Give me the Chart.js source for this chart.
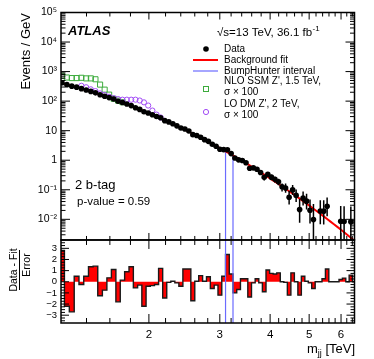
<!DOCTYPE html>
<html>
<head>
<meta charset="utf-8">
<script src="https://cdn.jsdelivr.net/npm/chart.js@4.4.1/dist/chart.umd.min.js"></script>
<style>
  html, body { margin: 0; padding: 0; background: #fff; }
  #wrap { width: 374px; height: 359px; }
</style>
</head>
<body>
<div id="wrap"><canvas id="dijet" width="374" height="359"></canvas></div>
<script>
// m_jj bin edges [GeV]
var binEdges = [1200, 1234, 1269, 1305, 1341, 1378, 1416, 1454, 1493, 1533, 1573, 1614, 1656, 1698, 1741, 1785,
  1830, 1875, 1921, 1968, 2016, 2065, 2114, 2164, 2215, 2267, 2320, 2374, 2429, 2485, 2542, 2600, 2659, 2719,
  2780, 2842, 2905, 2969, 3034, 3100, 3167, 3235, 3305, 3376, 3448, 3521, 3596, 3672, 3749, 3827, 3907, 3988,
  4070, 4154, 4239, 4326, 4414, 4504, 4595, 4688, 4782, 4878, 4975, 5074, 5175, 5277, 5381, 5487, 5595, 5705,
  5817, 5931, 6047, 6165, 6285, 6407, 6531];

// events / GeV
var dataValues = [418, 361, 322, 297, 265, 238, 214, 191, 164, 147, 132, 118, 99.2, 89.7, 79.9, 70.7, 59.8, 52.5,
  43.9, 39.8, 34.7, 30.2, 27.3, 21.9, 19.8, 17.1, 14.6, 12.4, 11.4, 9.77, 7.33, 6.84, 6.00, 4.97, 4.36, 3.46, 2.98,
  2.35, 2.29, 2.27, 1.68, 1.19, 1.03, 0.975, 0.822, 0.533, 0.553, 0.494, 0.385, 0.263, 0.333, 0.268, 0.226, 0.188,
  0.126, 0.114, 0.0556, 0.0989, 0.0645, 0.0213, 0.0521, 0.0412, 0.0202, 0.0099, null, 0.0192, 0.0189, 0.0278,
  null, null, null, 0.00862, 0.00847, null, 0.0082, null];
var dataErrLow = [3.5, 3.2, 3.0, 2.9, 2.7, 2.5, 2.4, 2.2, 2.0, 1.9, 1.8, 1.7, 1.6, 1.4, 1.3, 1.2, 1.2, 1.1, 1.0, 0.92,
  0.85, 0.79, 0.73, 0.67, 0.62, 0.57, 0.52, 0.48, 0.44, 0.40, 0.37, 0.34, 0.31, 0.29, 0.26, 0.24, 0.22, 0.20, 0.18,
  0.17, 0.15, 0.14, 0.13, 0.11, 0.10, 0.084, 0.085, 0.080, 0.070, 0.057, 0.064, 0.057, 0.052, 0.047, 0.038, 0.035,
  0.024, 0.0323, 0.0256, 0.0137, 0.0225, 0.0197, 0.0130, 0.00819, null, 0.0124, 0.0122, 0.0151, null, null, null,
  0.00713, 0.00701, null, 0.00678, null];
var dataErrHigh = [3.5, 3.2, 3.0, 2.9, 2.7, 2.5, 2.4, 2.2, 2.0, 1.9, 1.8, 1.7, 1.6, 1.4, 1.3, 1.2, 1.2, 1.1, 1.0, 0.92,
  0.85, 0.79, 0.73, 0.67, 0.62, 0.57, 0.52, 0.48, 0.44, 0.40, 0.37, 0.34, 0.31, 0.29, 0.26, 0.24, 0.22, 0.20, 0.18,
  0.17, 0.15, 0.14, 0.13, 0.11, 0.10, 0.084, 0.085, 0.080, 0.070, 0.057, 0.064, 0.057, 0.052, 0.047, 0.038, 0.049,
  0.0376, 0.0452, 0.0385, 0.0281, 0.0352, 0.0326, 0.0267, 0.0228, null, 0.0254, 0.0249, 0.0270, null, null, null,
  0.0198, 0.0195, null, 0.0189, null];

var fitValues = [408, 368, 330, 296, 266, 237, 211, 188, 167, 148, 131, 116, 102, 89.5, 78.7, 69.0, 60.4, 52.8,
  46.1, 40.2, 35.0, 30.4, 26.4, 22.9, 19.8, 17.1, 14.7, 12.6, 10.9, 9.31, 7.96, 6.82, 5.83, 4.97, 4.24, 3.60, 3.05,
  2.59, 2.20, 1.86, 1.57, 1.33, 1.12, 0.944, 0.794, 0.665, 0.557, 0.467, 0.390, 0.326, 0.272, 0.226, 0.189, 0.157,
  0.130, 0.108, 0.0891, 0.0736, 0.0607, 0.0500, 0.0411, 0.0339, 0.0279, 0.0229, 0.0188, 0.0154, 0.0126, 0.0103,
  0.00838, 0.00682, 0.00555, 0.00450, 0.00364, 0.00294, 0.00237, 0.00191];

// (data - fit) / error per bin
var significance = [2.8, -2.2, -2.7, 0.5, -0.25, 0.5, 1.35, 1.4, -1.25, -0.75, 0.35, 1.1, -1.8, 0.15, 0.9, 1.35,
  -0.55, -0.3, -2.2, -0.4, -0.35, -0.25, 1.2, -1.45, -0.05, 0.05, -0.1, -0.4, 1.15, 1.15, -1.7, 0.05, 0.55, 0.05,
  0.45, -0.6, -0.3, -1.2, 0.5, 2.45, 0.7, -1.0, -0.7, 0.27, 0.27, -1.37, -0.1, 0.27, -0.1, -0.9, 1.05, 0.75, 0.7,
  0.8, 0.0, -0.05, -1.2, 0.8, 0.0, -1.2, 0.5, 0.05, -0.1, -0.6, 0.0, 0.0, 0.27, 1.15, 0.0, 0.0, 0.0, 0.2, 0.33,
  0.0, 0.6, 0.0];

// signal + background, sigma x 100
var sigSSM = [724, 631, 603, 603, 617, 589, 589, 550, 363, 245, 166, 120, 104, 92];
var sigDM = [null, null, null, null, 331, 295, 251, 219, 182, 162, 141, 126, 117, 112, 112, 112, 112, 105, 91, 71,
  48, 35, 28];

var bumpHunter = [3.100, 3.235];   // TeV
var bumpTop = [2.2, 1.45];         // events / GeV where the lines stop

var xTickValues = [1.4, 1.6, 1.8, 2, 2.2, 2.4, 2.6, 2.8, 3, 3.2, 3.4, 3.6, 3.8, 4, 4.2, 4.4, 4.6, 4.8, 5, 5.2,
  5.4, 5.6, 5.8, 6, 6.2, 6.4];

var FONT = "'Liberation Sans', Arial, Helvetica, sans-serif";
Chart.defaults.font.family = FONT;
Chart.defaults.color = '#000';

var centers = [];
for (var i = 0; i < binEdges.length - 1; i++) centers.push((binEdges[i] + binEdges[i + 1]) / 2000);

function pts(vals) {
  return vals.map(function (v, i) { return {x: centers[i], y: v}; });
}

var resPts = significance.map(function (v, i) { return {x: binEdges[i] / 1000, y: v}; });
resPts.push({x: binEdges[binEdges.length - 1] / 1000, y: significance[significance.length - 1]});

var bumpUpper = [
  {x: bumpHunter[0], y: 1e-4}, {x: bumpHunter[0], y: bumpTop[0]}, {x: bumpHunter[0], y: null},
  {x: bumpHunter[1], y: 1e-4}, {x: bumpHunter[1], y: bumpTop[1]}
];
var bumpLower = [
  {x: bumpHunter[0], y: -10}, {x: bumpHunter[0], y: 10}, {x: bumpHunter[0], y: null},
  {x: bumpHunter[1], y: -10}, {x: bumpHunter[1], y: 10}
];

var sup = {'-': '\u207B', '1': '\u00B9', '2': '\u00B2', '3': '\u00B3', '4': '\u2074', '5': '\u2075'};
function logLabel(v) {
  var e = Math.round(Math.log10(v));
  if (Math.abs(Math.log10(v) - e) > 1e-6) return '';
  if (e === 0) return '1';
  if (e === 1) return '10';
  return '10' + String(e).split('').map(function (c) { return sup[c]; }).join('');
}

// error bars, drawn just before the data markers
var errorBars = {
  id: 'errorBars',
  beforeDatasetDraw: function (chart, args) {
    if (args.index !== 0) return;
    var ctx = chart.ctx, sx = chart.scales.x, sy = chart.scales.y;
    ctx.save();
    ctx.beginPath();
    ctx.rect(sx.left, sy.top, sx.right - sx.left, sy.bottom - sy.top);
    ctx.clip();
    ctx.strokeStyle = '#000';
    ctx.lineWidth = 1.5;
    ctx.beginPath();
    dataValues.forEach(function (v, i) {
      if (v == null) return;
      var px = sx.getPixelForValue(centers[i]);
      ctx.moveTo(px, sy.getPixelForValue(v - dataErrLow[i]));
      ctx.lineTo(px, sy.getPixelForValue(v + dataErrHigh[i]));
    });
    ctx.stroke();
    ctx.restore();
  }
};

// ROOT style frames with inward ticks
var axisFrame = {
  id: 'axisFrame',
  afterDatasetsDraw: function (chart) {
    var ctx = chart.ctx, sx = chart.scales.x, sy = chart.scales.y, sr = chart.scales.y2;
    var L = sx.left, R = sx.right;
    ctx.save();
    ctx.strokeStyle = '#000';
    ctx.lineWidth = 1;
    ctx.beginPath();
    sx.ticks.forEach(function (t) {
      var px = sx.getPixelForValue(t.value);
      var big = Number.isInteger(t.value);
      var a = big ? 7 : 4, b = big ? 9 : 5;
      ctx.moveTo(px, sy.top); ctx.lineTo(px, sy.top + a);
      ctx.moveTo(px, sy.bottom); ctx.lineTo(px, sy.bottom - a);
      ctx.moveTo(px, sr.top); ctx.lineTo(px, sr.top + b);
      ctx.moveTo(px, sr.bottom); ctx.lineTo(px, sr.bottom - b);
    });
    sy.ticks.forEach(function (t) {
      var py = sy.getPixelForValue(t.value);
      var len = logLabel(t.value) ? 9 : 4.5;
      ctx.moveTo(L, py); ctx.lineTo(L + len, py);
      ctx.moveTo(R, py); ctx.lineTo(R - len, py);
    });
    sr.ticks.forEach(function (t) {
      var py = sr.getPixelForValue(t.value);
      var len = Number.isInteger(t.value) ? 8 : 4;
      ctx.moveTo(L, py); ctx.lineTo(L + len, py);
      ctx.moveTo(R, py); ctx.lineTo(R - len, py);
    });
    ctx.stroke();
    ctx.lineWidth = 1.5;
    ctx.strokeRect(L, sy.top, R - L, sy.bottom - sy.top);
    ctx.strokeRect(L, sr.top, R - L, sr.bottom - sr.top);
    ctx.restore();
  }
};

var annotations = {
  id: 'annotations',
  afterDraw: function (chart) {
    var ctx = chart.ctx;
    ctx.save();
    ctx.fillStyle = '#000';
    ctx.textAlign = 'left';
    ctx.textBaseline = 'middle';

    ctx.font = 'italic bold 13px ' + FONT;
    ctx.fillText('ATLAS', 68, 31);

    ctx.font = '11.5px ' + FONT;
    var s = '\u221As=13 TeV, 36.1 fb';
    ctx.fillText(s, 217, 33);
    var w = ctx.measureText(s).width;
    ctx.font = '8px ' + FONT;
    ctx.fillText('-1', 217 + w + 0.5, 29);

    // legend
    var lx = 224;
    ctx.font = '10px ' + FONT;
    ctx.fillText('Data', lx, 49);
    ctx.fillText('Background fit', lx, 60);
    ctx.fillText('BumpHunter interval', lx, 71);
    ctx.fillText('NLO SSM Z\', 1.5 TeV,', lx, 81.5);
    ctx.fillText('\u03C3 \u00D7 100', lx, 92.5);
    ctx.fillText('LO DM Z\', 2 TeV,', lx, 104);
    ctx.fillText('\u03C3 \u00D7 100', lx, 115.5);

    ctx.beginPath();
    ctx.arc(206, 49, 2.8, 0, 2 * Math.PI);
    ctx.fill();
    ctx.lineWidth = 2;
    ctx.strokeStyle = '#ff0000';
    ctx.beginPath(); ctx.moveTo(193, 60); ctx.lineTo(218, 60); ctx.stroke();
    ctx.lineWidth = 1.2;
    ctx.strokeStyle = '#6b6bff';
    ctx.beginPath(); ctx.moveTo(193, 71); ctx.lineTo(218, 71); ctx.stroke();
    ctx.lineWidth = 1;
    ctx.strokeStyle = '#3cab3c';
    ctx.strokeRect(203.5, 86.5, 5, 5);
    ctx.strokeStyle = '#a24cf5';
    ctx.beginPath(); ctx.arc(206, 112, 2.6, 0, 2 * Math.PI); ctx.stroke();

    ctx.font = '13px ' + FONT;
    ctx.fillText('2 b-tag', 75, 185);
    ctx.font = '11.5px ' + FONT;
    ctx.fillText('p-value = 0.59', 77, 202);

    // axis titles
    ctx.textBaseline = 'alphabetic';
    ctx.save();
    ctx.translate(30, 13);
    ctx.rotate(-Math.PI / 2);
    ctx.textAlign = 'right';
    ctx.font = '13px ' + FONT;
    ctx.fillText('Events / GeV', 0, 0);
    ctx.restore();

    ctx.save();
    ctx.translate(0, 270);
    ctx.rotate(-Math.PI / 2);
    ctx.textAlign = 'center';
    ctx.font = '10.5px ' + FONT;
    ctx.fillText('Data - Fit', 0, 16.5);
    ctx.fillText('Error', 5, 29.5);
    ctx.lineWidth = 1;
    ctx.strokeStyle = '#000';
    ctx.beginPath(); ctx.moveTo(-20, 19.5); ctx.lineTo(20, 19.5); ctx.stroke();
    ctx.restore();

    ctx.textAlign = 'left';
    ctx.font = '13px ' + FONT;
    var wm = ctx.measureText('m').width, wt = ctx.measureText(' [TeV]').width;
    ctx.font = '9px ' + FONT;
    var wj = ctx.measureText('jj').width;
    var x0 = 355 - wm - wj - wt;
    ctx.font = '13px ' + FONT;
    ctx.fillText('m', x0, 352.5);
    ctx.fillText(' [TeV]', x0 + wm + wj, 352.5);
    ctx.font = '9px ' + FONT;
    ctx.fillText('jj', x0 + wm, 356);
    ctx.restore();
  }
};

var ctx = document.getElementById('dijet').getContext('2d');
var chart = new Chart(ctx, {
  type: 'line',
  data: {
    datasets: [
      {
        label: 'Data',
        data: pts(dataValues),
        yAxisID: 'y',
        showLine: false,
        pointRadius: 2.8,
        pointBackgroundColor: '#000',
        pointBorderWidth: 0
      },
      {
        label: 'Background fit',
        data: pts(fitValues),
        yAxisID: 'y',
        borderColor: '#ff0000',
        borderWidth: 2,
        pointRadius: 0
      },
      {
        label: 'LO DM Z\', 2 TeV',
        data: pts(sigDM),
        yAxisID: 'y',
        showLine: false,
        pointStyle: 'circle',
        pointRadius: 2.6,
        pointBorderColor: '#a24cf5',
        pointBackgroundColor: 'rgba(0,0,0,0)',
        pointBorderWidth: 1
      },
      {
        label: 'NLO SSM Z\', 1.5 TeV',
        data: pts(sigSSM),
        yAxisID: 'y',
        showLine: false,
        pointStyle: 'rect',
        pointRadius: 3.6,
        pointBorderColor: '#3cab3c',
        pointBackgroundColor: 'rgba(0,0,0,0)',
        pointBorderWidth: 1
      },
      {
        label: 'BumpHunter interval',
        data: bumpUpper,
        yAxisID: 'y',
        borderColor: '#6b6bff',
        borderWidth: 1.2,
        pointRadius: 0
      },
      {
        label: 'BumpHunter interval (ratio)',
        data: bumpLower,
        yAxisID: 'y2',
        borderColor: '#6b6bff',
        borderWidth: 1.2,
        pointRadius: 0
      },
      {
        label: 'Significance',
        data: resPts,
        yAxisID: 'y2',
        stepped: 'before',
        fill: 'origin',
        backgroundColor: '#ff0000',
        borderColor: '#1a1a1a',
        borderWidth: 1.4,
        pointRadius: 0
      }
    ]
  },
  options: {
    responsive: false,
    animation: false,
    devicePixelRatio: 1,
    layout: {padding: {left: 0, right: 19.5, top: 12.5, bottom: 0}},
    plugins: {legend: {display: false}, tooltip: {enabled: false}},
    scales: {
      x: {
        type: 'logarithmic',
        min: 1.21,
        max: 6.48,
        position: 'bottom',
        grid: {display: false, drawTicks: false},
        border: {display: false},
        afterBuildTicks: function (s) { s.ticks = xTickValues.map(function (v) { return {value: v}; }); },
        afterFit: function (s) { s.height = 36; },
        ticks: {
          autoSkip: false,
          maxRotation: 0,
          padding: 5,
          font: {size: 11.5},
          callback: function (v) { return Number.isInteger(v) ? String(v) : ''; }
        }
      },
      y2: {
        type: 'linear',
        min: -3.7,
        max: 3.75,
        position: 'left',
        stack: 'panels',
        stackWeight: 1,
        grid: {display: false, drawTicks: false},
        border: {display: false},
        afterBuildTicks: function (s) {
          var t = [];
          for (var v = -3.5; v <= 3.5; v += 0.25) t.push({value: v});
          s.ticks = t;
        },
        afterFit: function (s) { s.width = 61; },
        ticks: {
          autoSkip: false,
          padding: 4,
          font: {size: 9.5},
          callback: function (v) {
            if (!Number.isInteger(v)) return '';
            return v < 0 ? '\u2212' + Math.abs(v) : String(v);
          }
        }
      },
      y: {
        type: 'logarithmic',
        min: 0.002,
        max: 1e5,
        position: 'left',
        stack: 'panels',
        stackWeight: 2.74,
        grid: {display: false, drawTicks: false},
        border: {display: false},
        afterBuildTicks: function (s) {
          var t = [];
          for (var e = -3; e <= 5; e++) {
            for (var m = 1; m <= 9; m++) {
              var v = m * Math.pow(10, e);
              if (v >= 0.002 * 0.999 && v <= 1e5 * 1.001) t.push({value: v});
              if (e === 5) break;
            }
          }
          s.ticks = t;
        },
        afterFit: function (s) { s.width = 61; },
        ticks: {
          autoSkip: false,
          padding: 4,
          font: {size: 10.5},
          callback: function (v) { return logLabel(v); }
        }
      }
    }
  },
  plugins: [errorBars, axisFrame, annotations]
});
</script>
</body>
</html>
